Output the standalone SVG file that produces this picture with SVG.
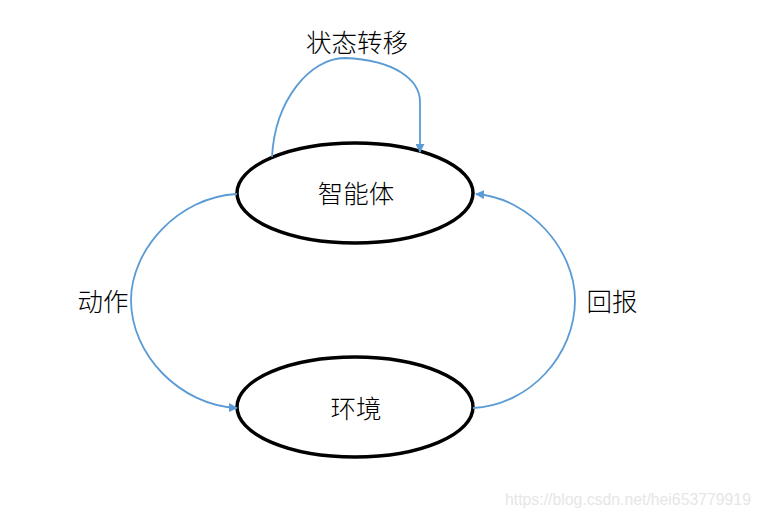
<svg xmlns="http://www.w3.org/2000/svg" width="761" height="519" viewBox="0 0 761 519">
<style>
.node{fill:#fff;stroke:#000;stroke-width:3.5}
.lbl{font-family:"Noto Sans CJK SC","Liberation Sans",sans-serif;font-size:25.5px;font-weight:300;fill:#000;text-anchor:middle;dominant-baseline:central}
.edge{fill:none;stroke:#5B9BD5;stroke-width:1.8}
.wm{font-family:"Liberation Sans",Arial,sans-serif;font-size:15.8px;fill:#e6e6e6}
</style>
<defs>
<marker id="ah" viewBox="0 0 10 10" refX="9" refY="5" markerWidth="9" markerHeight="9" markerUnits="userSpaceOnUse" orient="auto">
<path d="M0,0 L10,5 L0,10 z" fill="#5B9BD5"/>
</marker>
</defs>
<rect width="761" height="519" fill="#fff"/>
<g id="agent">
<ellipse class="node" cx="355" cy="193" rx="118" ry="50"/>
<text class="lbl" x="356" y="191">智能体</text>
</g>
<g id="env">
<ellipse class="node" cx="355" cy="407" rx="118" ry="50"/>
<text class="lbl" x="356" y="406">环境</text>
</g>
<g id="connectors">
<path class="edge" marker-end="url(#ah)" d="M272,157 C275,100 310,58 345,58 C395,60 420,80 420,102 L420,152"/>
<path class="edge" marker-end="url(#ah)" d="M237,194 C178,197 131,250 131,300 C131,355 180,405 237,408"/>
<path class="edge" marker-end="url(#ah)" d="M473,408 C530,405 575,355 575,300 C575,250 530,198 476,194"/>
</g>
<g id="labels">
<text class="lbl" x="357" y="40">状态转移</text>
<text class="lbl" x="103" y="299">动作</text>
<text class="lbl" x="612" y="299">回报</text>
</g>
<text class="wm" x="505" y="505">https://blog.csdn.net/hei653779919</text>
</svg>
